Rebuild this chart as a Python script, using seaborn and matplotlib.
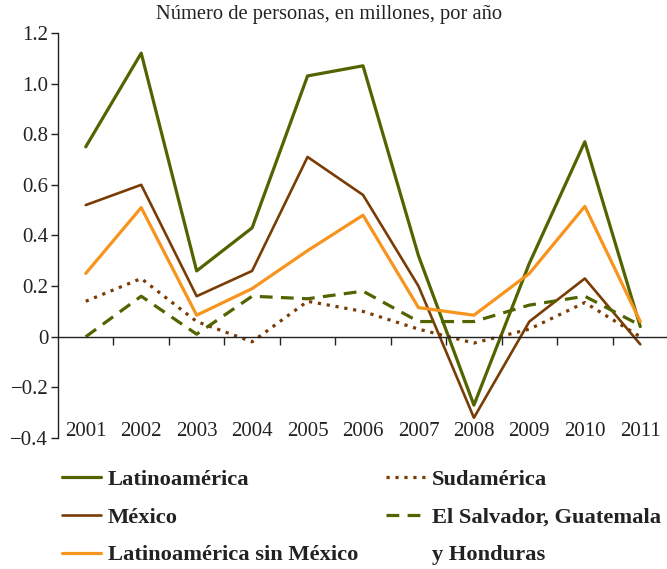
import numpy as np
import pandas as pd
import matplotlib
matplotlib.use('Agg')
import matplotlib.pyplot as plt
from matplotlib.lines import Line2D
import seaborn as sns

# Datos (millones de personas por año)
years = ['2001', '2002', '2003', '2004', '2005', '2006', '2007', '2008', '2009', '2010', '2011']
latinoamerica = [0.75, 1.12, 0.26, 0.43, 1.03, 1.07, 0.32, -0.27, 0.29, 0.77, 0.04]
mexico = [0.52, 0.60, 0.16, 0.26, 0.71, 0.56, 0.20, -0.32, 0.06, 0.23, -0.03]
latam_sin_mexico = [0.25, 0.51, 0.085, 0.19, 0.34, 0.48, 0.115, 0.085, 0.25, 0.515, 0.06]
sudamerica = [0.14, 0.23, 0.06, -0.02, 0.14, 0.10, 0.03, -0.025, 0.03, 0.135, 0.0]
centroamerica = [0.0, 0.16, 0.01, 0.16, 0.15, 0.18, 0.06, 0.06, 0.125, 0.16, 0.045]

y_ticks = [-0.4, -0.2, 0, 0.2, 0.4, 0.6, 0.8, 1.0, 1.2]
y_labels = ['\u22120.4', '\u22120.2', '0', '0.2', '0.4', '0.6', '0.8', '1.0', '1.2']

GREEN = '#526400'
BROWN = '#7a3c05'
ORANGE = '#f7941d'

sns.set_theme(style='white')
plt.rcParams['font.family'] = ['Liberation Serif', 'DejaVu Serif']

df = pd.DataFrame({
    'pos': np.arange(len(years)),
    'latam': latinoamerica,
    'mex': mexico,
    'sinmex': latam_sin_mexico,
    'sud': sudamerica,
    'cam': centroamerica,
})

fig = plt.figure(figsize=(6.67, 5.69), dpi=100)
ax = fig.add_axes([0.087, 0.2302, 0.9145, 0.712])

series = [
    ('latam', GREEN, '-', 2.3),
    ('mex', BROWN, '-', 1.9),
    ('sinmex', ORANGE, '-', 2.3),
    ('sud', BROWN, (0, (1, 1.8)), 2.3),
    ('cam', GREEN, (0, (4, 2.6)), 2.3),
]
for col, color, ls, lw in series:
    sns.lineplot(data=df, x='pos', y=col, ax=ax, color=color, linestyle=ls,
                 linewidth=lw)

ax.set_xlim(-0.5, len(years) - 0.5)
ax.set_ylim(-0.4, 1.2)
ax.set_xlabel('')
ax.set_ylabel('')

# eje horizontal en cero con marcas entre categorias
ax.spines['top'].set_visible(False)
ax.spines['right'].set_visible(False)
ax.spines['bottom'].set_position(('data', 0))
ax.spines['bottom'].set_color('#222222')
ax.spines['left'].set_color('#222222')
ax.spines['bottom'].set_linewidth(1.0)
ax.spines['left'].set_linewidth(1.0)
ax.set_xticks(np.arange(0.5, len(years) - 1, 1))
ax.tick_params(axis='x', direction='out', length=6, width=1, color='#222222',
               labelbottom=False, bottom=True)
ax.set_yticks(y_ticks)
ax.set_yticklabels(y_labels)
ax.tick_params(axis='y', direction='out', length=5, width=1, color='#222222',
               labelsize=15, labelcolor='#222222', pad=2, left=True)

# etiquetas de años abajo
sec = ax.secondary_xaxis(0.04)
sec.set_xticks(df['pos'], years)
sec.tick_params(length=0, pad=0, labelsize=15, labelcolor='#222222')
sec.spines['bottom'].set_visible(False)

fig.text(0.493, 0.975, 'Número de personas, en millones, por año',
         ha='center', va='center', fontsize=14.8, color='#222222')

leg_font = {'family': 'Liberation Serif', 'weight': 'bold', 'size': 16.2}
h1 = [Line2D([], [], color=GREEN, lw=2.3),
      Line2D([], [], color=BROWN, lw=1.9),
      Line2D([], [], color=ORANGE, lw=2.3)]
l1 = ['Latinoamérica', 'México', 'Latinoamérica sin México']
h2 = [Line2D([], [], color=BROWN, lw=2.3, ls=(0, (1, 1.8))),
      Line2D([], [], color=GREEN, lw=2.3, ls=(0, (4, 2.6))),
      Line2D([], [], color='none')]
l2 = ['Sudamérica', 'El Salvador, Guatemala', 'y Honduras']

common = dict(loc='upper left', frameon=False, borderpad=0, borderaxespad=0,
              handlelength=1.75, handletextpad=0.28, labelspacing=0.76,
              prop=leg_font, labelcolor='#222222')
fig.legend(h1, l1, bbox_to_anchor=(62 / 667, 1 - 469 / 569), **common)
fig.legend(h2, l2, bbox_to_anchor=(386 / 667, 1 - 469 / 569), **common)

fig.savefig('out.png', dpi=100)
